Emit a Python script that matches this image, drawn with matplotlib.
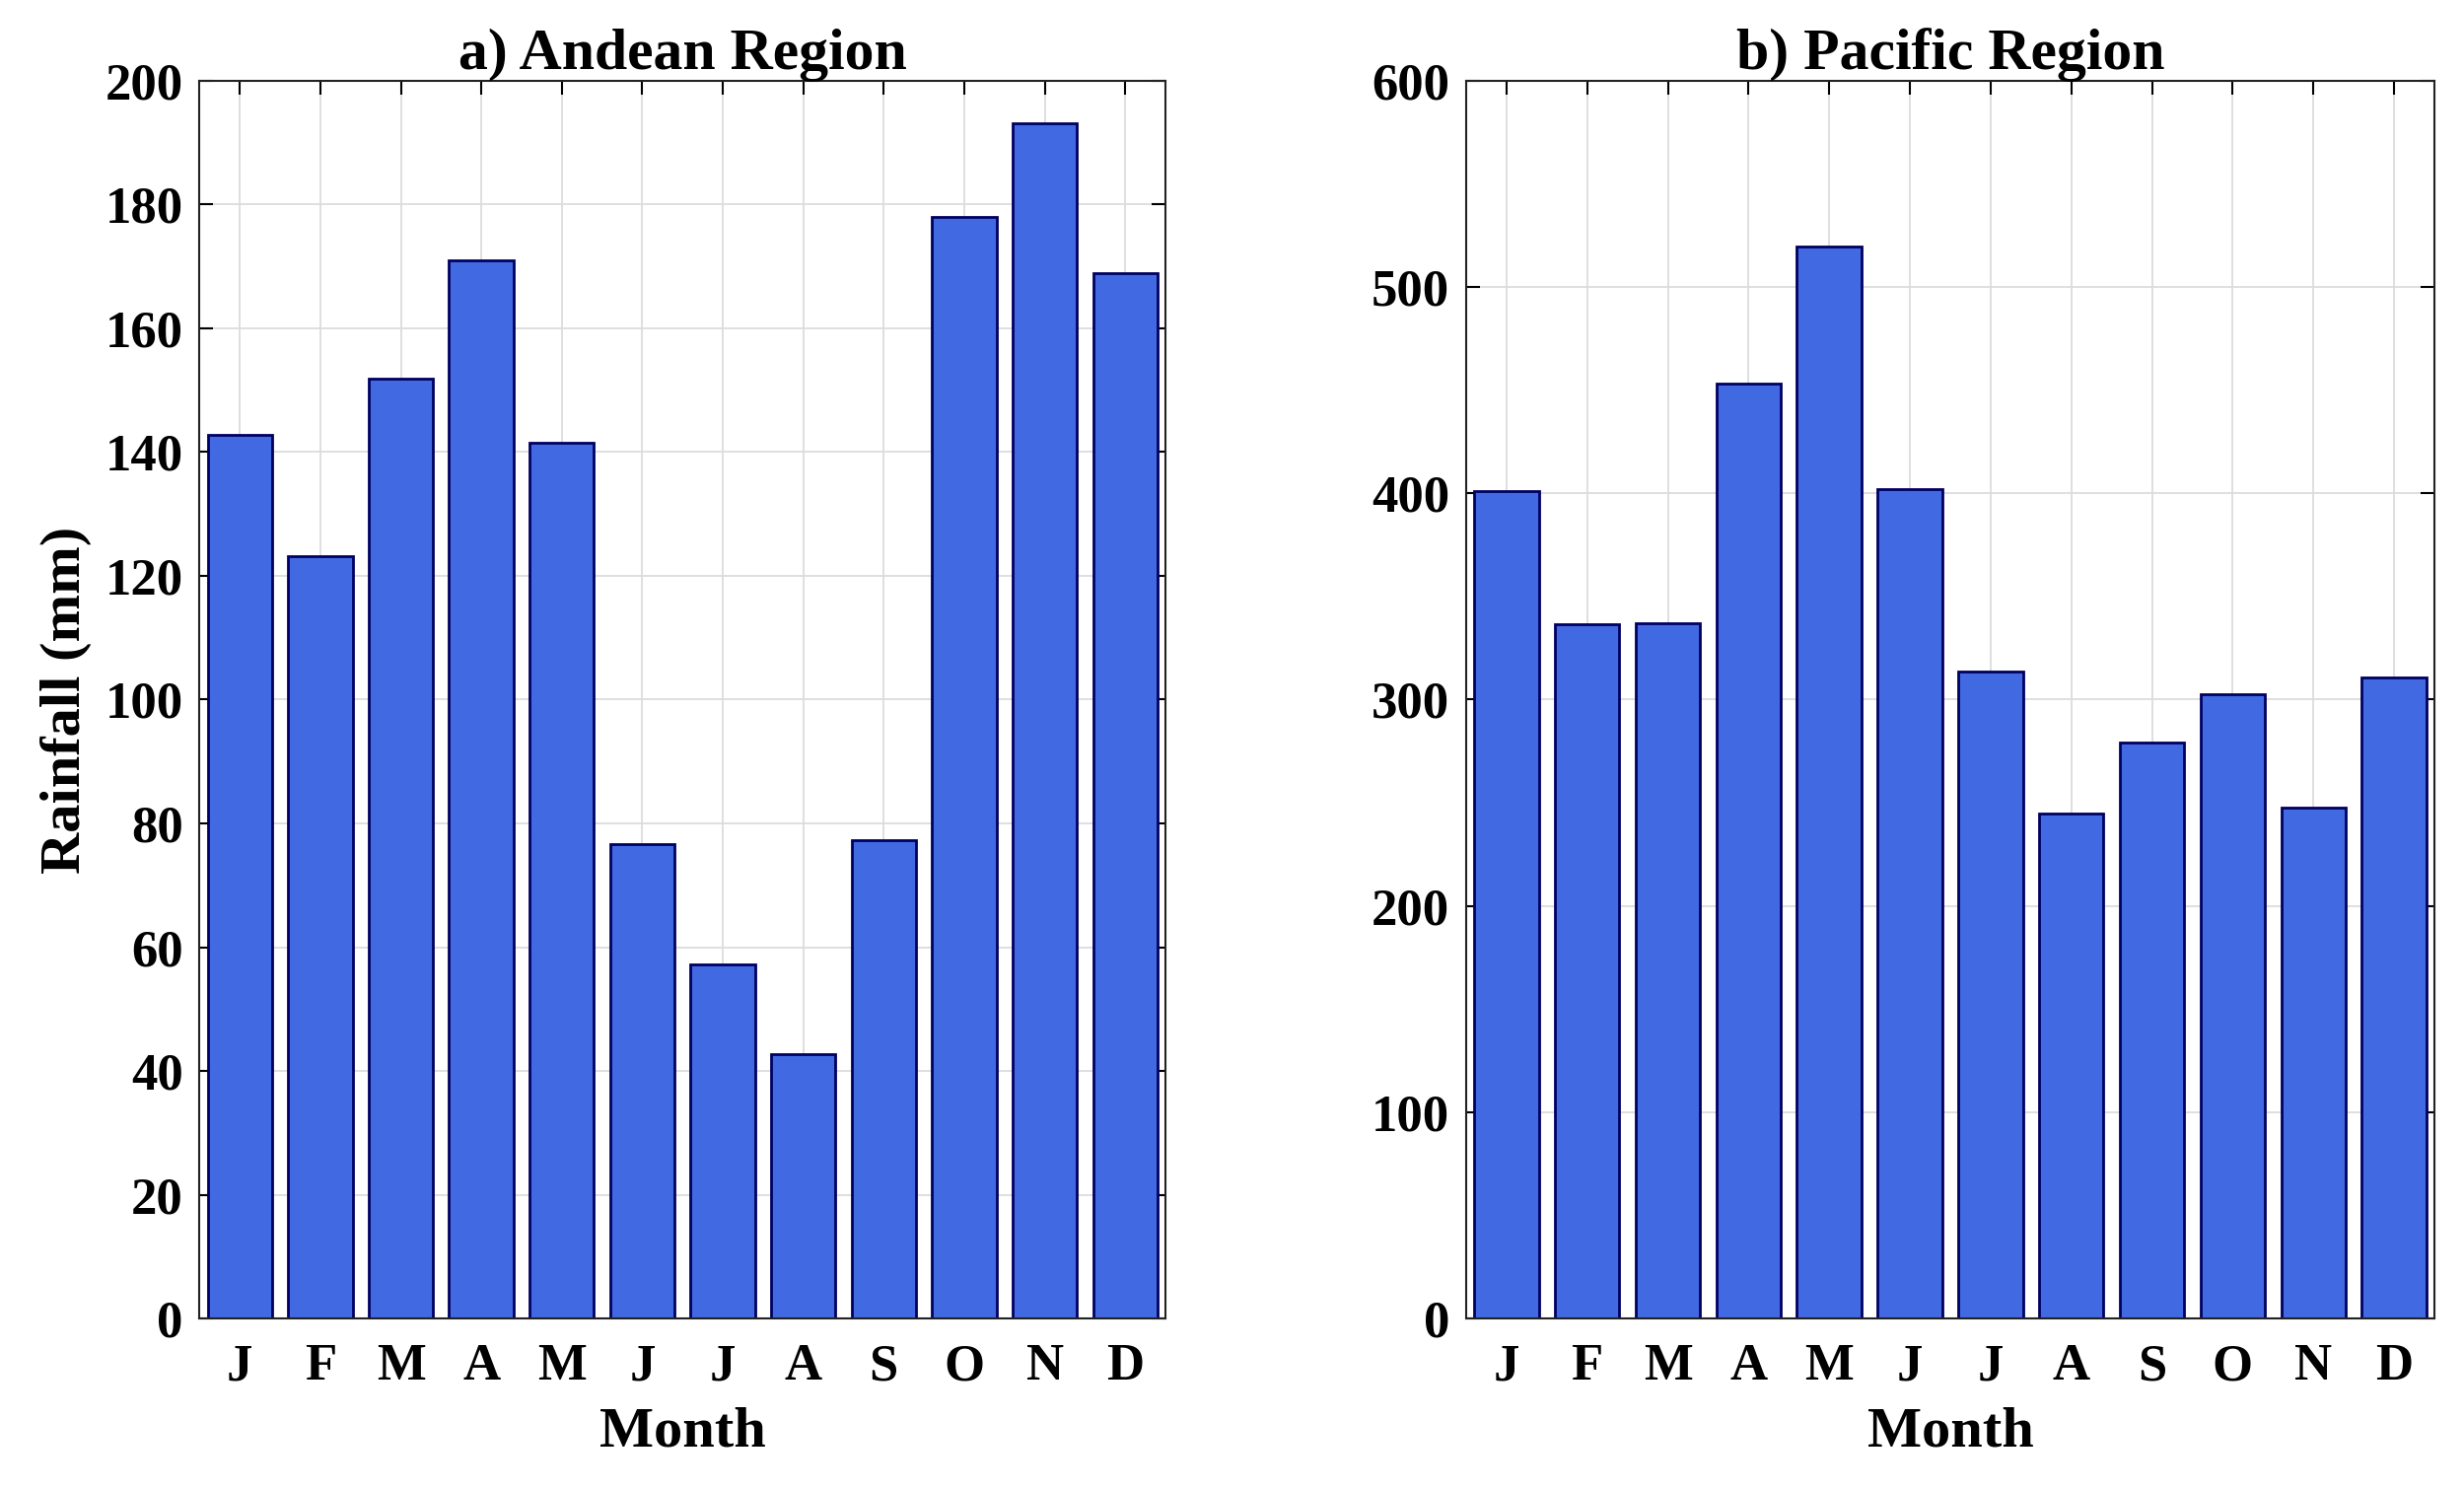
import numpy as np
import matplotlib
matplotlib.use('Agg')
import matplotlib.pyplot as plt

plt.rcParams['font.family'] = ['Liberation Serif', 'DejaVu Serif']
plt.rcParams['font.weight'] = 'bold'

months = ['J', 'F', 'M', 'A', 'M', 'J', 'J', 'A', 'S', 'O', 'N', 'D']
andean = [142.8, 123.1, 151.8, 171.0, 141.5, 76.6, 57.2, 42.7, 77.3, 177.9, 193.1, 168.8]
pacific = [401.0, 336.7, 337.2, 453.3, 519.6, 402.2, 313.4, 244.6, 279.0, 302.7, 247.7, 310.5]

bar_color = '#4169E1'
edge_color = '#000060'

fig = plt.figure(figsize=(24.99, 15.11), dpi=100)
ax1 = fig.add_axes([0.081, 0.115, 0.392, 0.831])
ax2 = fig.add_axes([0.595, 0.115, 0.393, 0.831])

x = np.arange(1, 13)


def style_axes(ax, data, ymax, ystep, title):
    ax.set_axisbelow(True)
    ax.grid(True, color='#dcdcdc', linewidth=1.3)
    ax.bar(x, data, width=0.8, color=bar_color, edgecolor=edge_color, linewidth=2)
    ax.set_xlim(0.5, 12.5)
    ax.set_ylim(0, ymax)
    ax.set_xticks(x)
    ax.set_xticklabels(months)
    ax.set_yticks(np.arange(0, ymax + 1, ystep))
    ax.tick_params(axis='both', direction='in', top=True, right=True,
                   length=10, width=1.5, labelsize=38)
    ax.tick_params(axis='x', pad=18)
    ax.tick_params(axis='y', pad=12)
    for sp in ax.spines.values():
        sp.set_linewidth(1.5)
        sp.set_color('#222222')
    ax.set_title(title, fontsize=43, fontweight='bold', pad=8)
    ax.set_xlabel('Month', fontsize=42, fontweight='bold', labelpad=12)


style_axes(ax1, andean, 200, 20, 'a) Andean Region')
style_axes(ax2, pacific, 600, 100, 'b) Pacific Region')
ax1.set_ylabel('Rainfall (mm)', fontsize=42, fontweight='bold', labelpad=10)

fig.savefig('out.png', dpi=100)
